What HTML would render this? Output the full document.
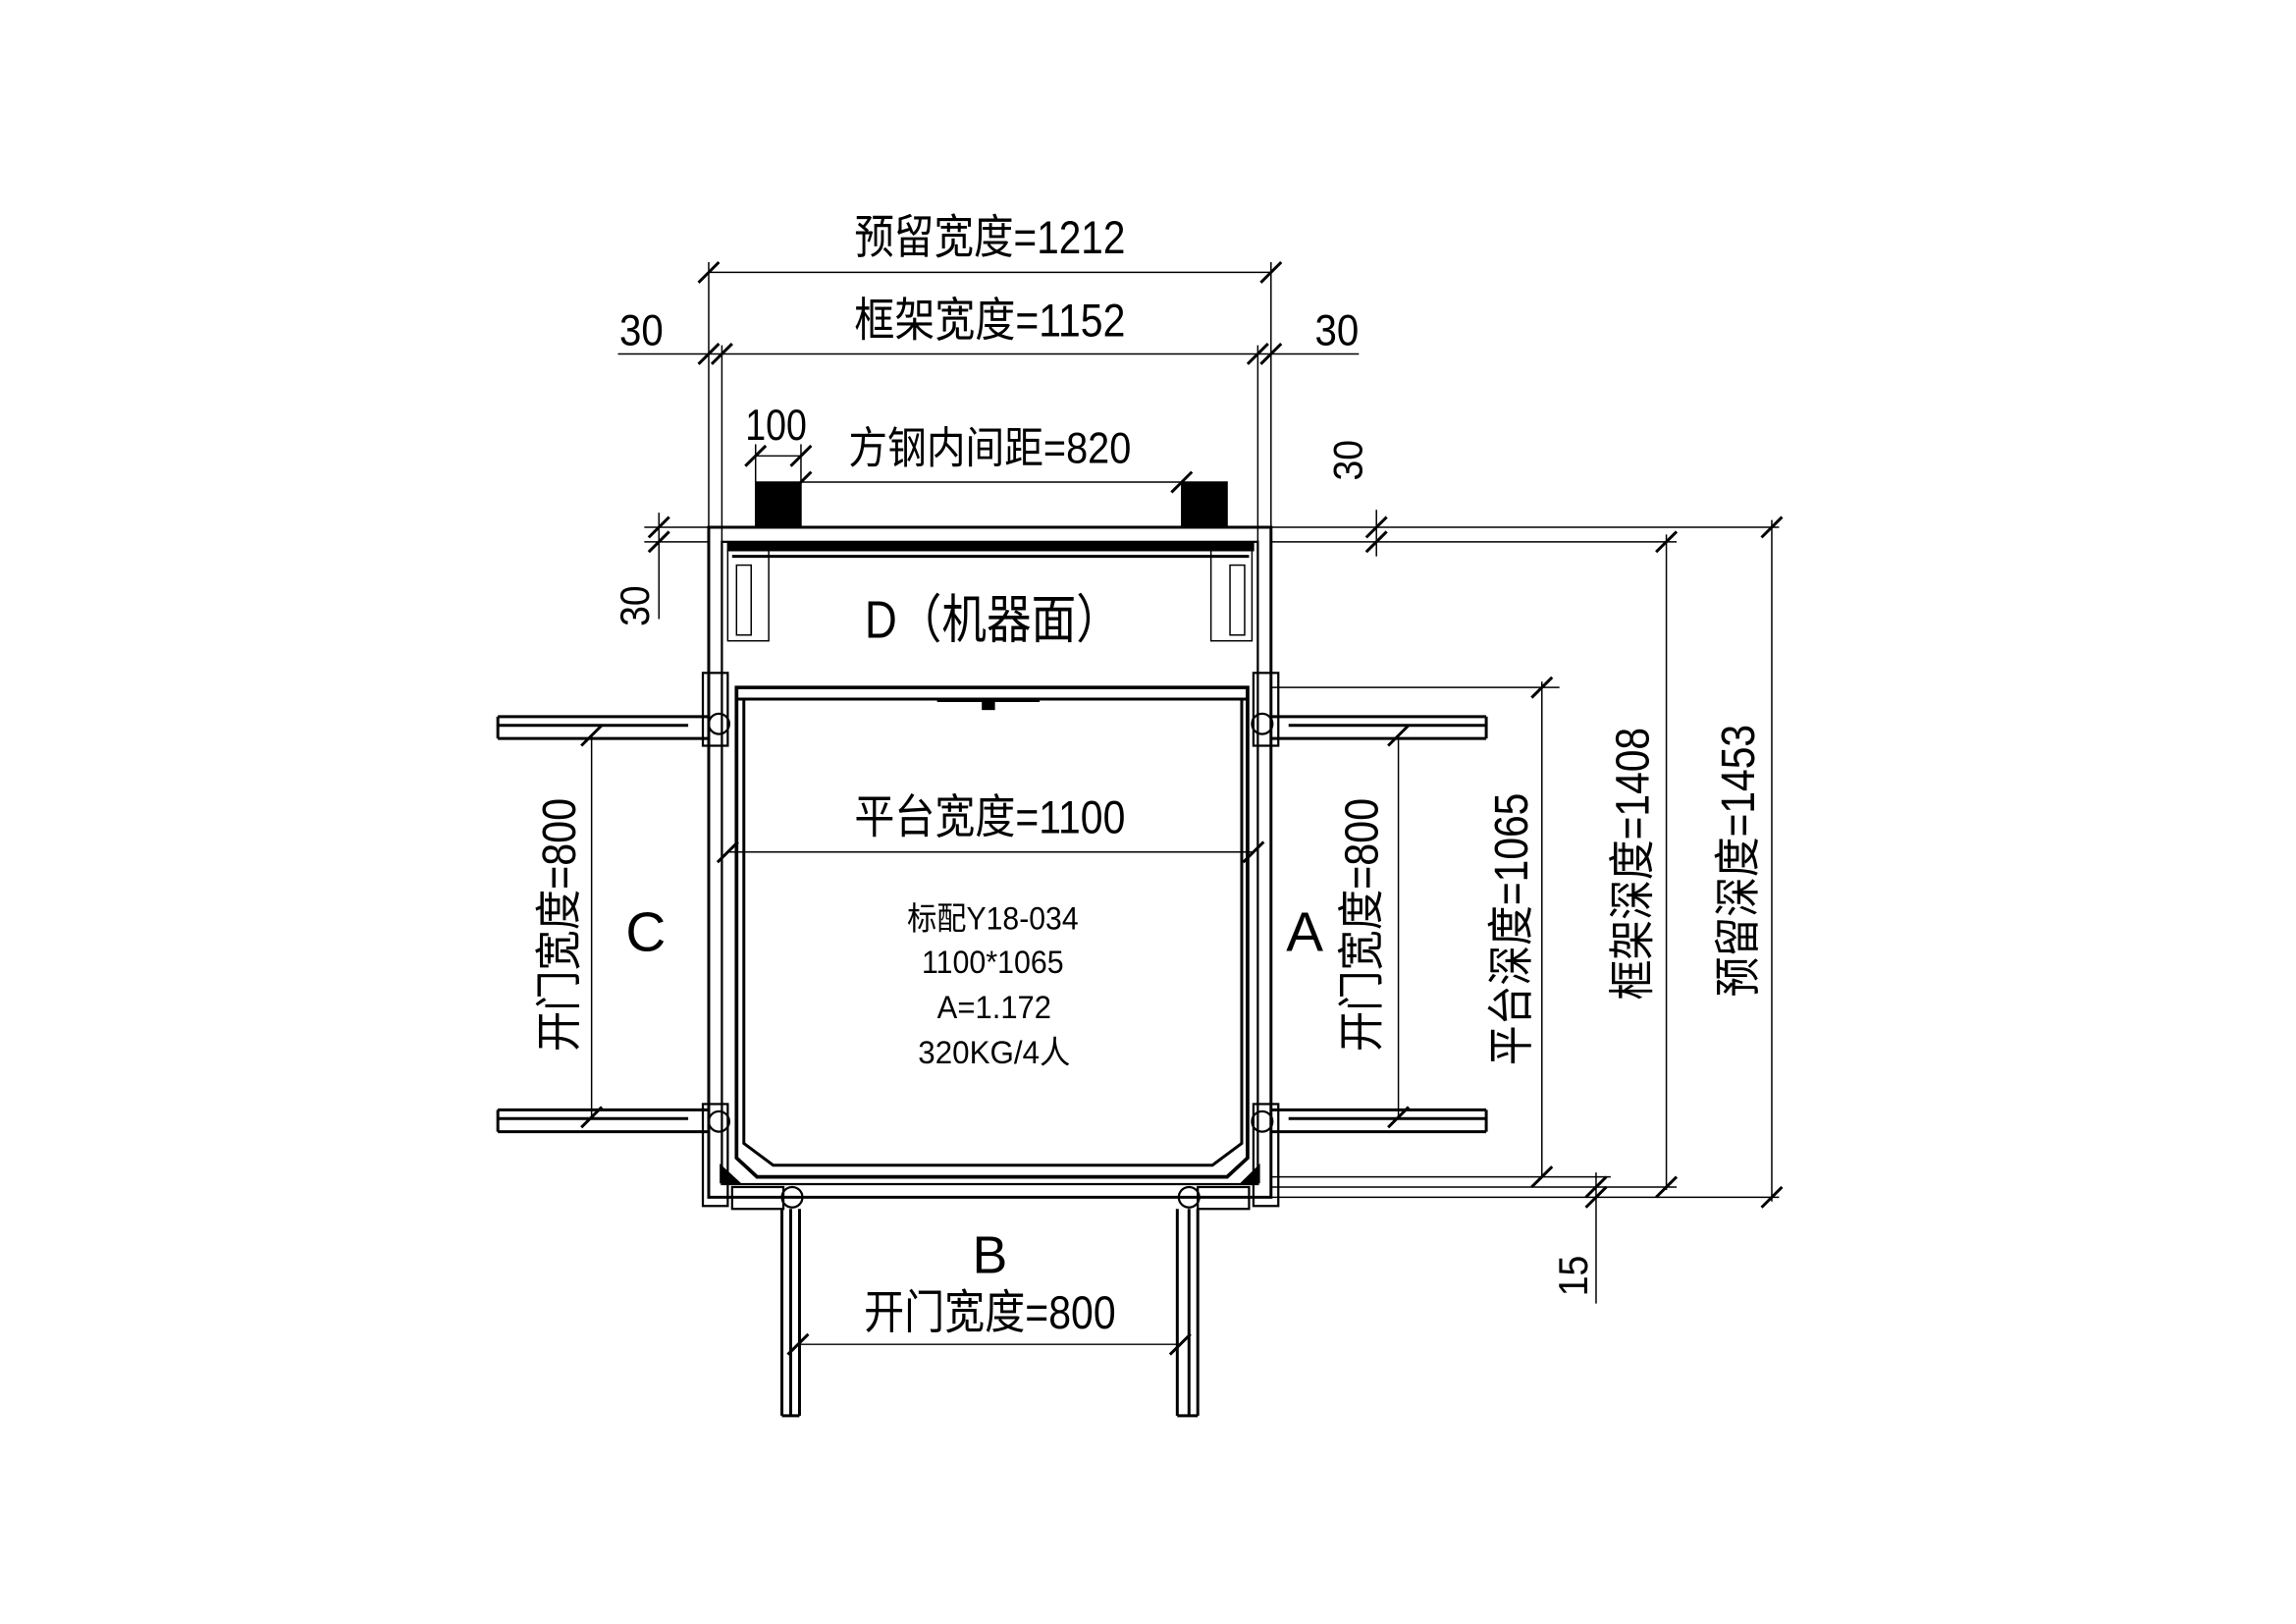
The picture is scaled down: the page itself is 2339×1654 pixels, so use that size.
<!DOCTYPE html>
<html><head><meta charset="utf-8"><style>
html,body{margin:0;padding:0;background:#fff}
svg{display:block}
text{font-family:"Liberation Sans","Noto Sans CJK SC",sans-serif;fill:#000}
.s{font-family:"Liberation Serif","Noto Sans CJK SC",serif}
</style></head><body>
<svg width="2339" height="1654" viewBox="0 0 1568 1115" preserveAspectRatio="none" xmlns="http://www.w3.org/2000/svg">
<g stroke="#000" stroke-width="1" fill="none">
<line x1="484" y1="187" x2="868" y2="187"/>
<line x1="484" y1="180" x2="484" y2="362"/>
<line x1="868" y1="180" x2="868" y2="362"/>
<line x1="422" y1="243" x2="928" y2="243"/>
<line x1="493" y1="237" x2="493" y2="372"/>
<line x1="859" y1="237" x2="859" y2="372"/>
<line x1="516" y1="313" x2="547" y2="313"/>
<line x1="516" y1="305" x2="516" y2="331"/>
<line x1="547" y1="305" x2="547" y2="331"/>
<line x1="547" y1="331" x2="807" y2="331"/>
<g stroke-width="2">
<path d="M477 194 L491 180 M861 194 L875 180 M477 250 L491 236 M486 250 L500 236 M852 250 L866 236 M861 250 L875 236 M509 320 L523 306 M540 320 L554 306 M540 338 L554 324 M800 338 L814 324"/>
</g>
<rect x="484" y="362" width="384" height="460" stroke-width="2"/>
<rect x="493" y="372" width="366" height="441" stroke-width="1.5"/>
<rect x="497" y="372" width="359" height="6" fill="#000"/>
<line x1="500" y1="382" x2="853" y2="382" stroke-width="2"/>
<rect x="497" y="378" width="28" height="62"/>
<rect x="827" y="378" width="28" height="62"/>
<rect x="503" y="388" width="10" height="48"/>
<rect x="840" y="388" width="10" height="48"/>
<rect x="516" y="331" width="31" height="31" fill="#000"/>
<rect x="807" y="331" width="31" height="31" fill="#000"/>
<path d="M503 472 H852 V795 L838 808 H517 L503 795 Z" stroke-width="2.5"/>
<path d="M508 480 H848 V785 L828 800 H528 L508 785 Z" stroke-width="2"/>
<line x1="503" y1="480" x2="852" y2="480" stroke-width="2"/>
<rect x="671" y="481" width="8" height="6" fill="#000"/>
<line x1="640" y1="481" x2="710" y2="481" stroke-width="2"/>
<g stroke-width="1.5">
<rect x="480" y="462" width="17" height="50"/><rect x="856" y="462" width="17" height="50"/>
<rect x="480" y="758" width="17" height="70"/><rect x="856" y="758" width="17" height="70"/>
<circle cx="491" cy="497" r="7"/><circle cx="862" cy="497" r="7"/>
<circle cx="491" cy="770" r="7"/><circle cx="862" cy="770" r="7"/>
<circle cx="541" cy="822" r="7"/><circle cx="812" cy="822" r="7"/>
<rect x="500" y="815" width="35" height="15"/><rect x="818" y="815" width="35" height="15"/>
</g>
<path d="M492 800 L505 812 L492 812Z M860 800 L848 812 L860 812Z" fill="#000"/>
<g stroke-width="2">
<path d="M340 492 H484 M340 507 H484 M340 498 H470 M340 762 H484 M340 777 H484 M340 768 H470"/>
<path d="M868 492 H1015 M868 507 H1015 M880 498 H1015 M868 762 H1015 M868 777 H1015 M880 768 H1015"/>
<path d="M340 492 V507 M340 762 V777 M1015 492 V507 M1015 762 V777"/>
<path d="M534 830 V972 M546 830 V972 M540 830 V972 M534 972 H546 M804 830 V972 M818 830 V972 M812 830 V972 M804 972 H818"/>
</g>
<line x1="497" y1="585" x2="856" y2="585"/>
<path d="M490 592 L504 578 M849 592 L863 578" stroke-width="2"/>
<line x1="404" y1="505" x2="404" y2="767"/>
<line x1="955" y1="505" x2="955" y2="767"/>
<path d="M397 512 L411 498 M397 774 L411 760 M948 512 L962 498 M948 774 L962 760" stroke-width="2"/>
<line x1="545" y1="923" x2="806" y2="923"/>
<path d="M538 930 L552 916 M799 930 L813 916" stroke-width="2"/>
<path d="M868 362 H1215 M868 372 H1145 M868 472 H1065 M868 808 H1100 M868 815 H1145 M868 822 H1215 M930 362 H950"/>
<line x1="1053" y1="468" x2="1053" y2="808"/>
<line x1="1138" y1="367" x2="1138" y2="817"/>
<line x1="1210" y1="357" x2="1210" y2="825"/>
<line x1="940" y1="350" x2="940" y2="382"/>
<line x1="1090" y1="805" x2="1090" y2="895"/>
<path d="M1046 479 L1060 465 M1046 815 L1060 801 M1131 379 L1145 365 M1131 822 L1145 808 M1203 369 L1217 355 M1203 829 L1217 815 M933 369 L947 355 M933 379 L947 365 M1083 822 L1097 808 M1083 829 L1097 815" stroke-width="2"/>
<path d="M440 362 H484 M440 372 H484"/>
<line x1="450" y1="352" x2="450" y2="425"/>
<path d="M443 369 L457 355 M443 379 L457 365" stroke-width="2"/>
</g>
<g class="s">
<text x="676" y="174" font-size="32" text-anchor="middle" textLength="185" lengthAdjust="spacingAndGlyphs">预留宽度=1212</text>
<text x="676" y="231" font-size="32" text-anchor="middle" textLength="185" lengthAdjust="spacingAndGlyphs">框架宽度=1152</text>
<text x="438" y="237" font-size="30" text-anchor="middle" textLength="30" lengthAdjust="spacingAndGlyphs">30</text>
<text x="913" y="237" font-size="30" text-anchor="middle" textLength="30" lengthAdjust="spacingAndGlyphs">30</text>
<text x="530" y="302" font-size="30" text-anchor="middle" textLength="42" lengthAdjust="spacingAndGlyphs">100</text>
<text x="676" y="572" font-size="32" text-anchor="middle" textLength="185" lengthAdjust="spacingAndGlyphs">平台宽度=1100</text>
<text x="676" y="912" font-size="32" text-anchor="middle" textLength="172" lengthAdjust="spacingAndGlyphs">开门宽度=800</text>
<text transform="translate(393,635) rotate(-90)" font-size="32" text-anchor="middle" textLength="174" lengthAdjust="spacingAndGlyphs">开门宽度=800</text>
<text transform="translate(941,635) rotate(-90)" font-size="32" text-anchor="middle" textLength="174" lengthAdjust="spacingAndGlyphs">开门宽度=800</text>
<text transform="translate(1043,638) rotate(-90)" font-size="32" text-anchor="middle" textLength="187" lengthAdjust="spacingAndGlyphs">平台深度=1065</text>
<text transform="translate(1126,593) rotate(-90)" font-size="32" text-anchor="middle" textLength="187" lengthAdjust="spacingAndGlyphs">框架深度=1408</text>
<text transform="translate(1198,591) rotate(-90)" font-size="32" text-anchor="middle" textLength="187" lengthAdjust="spacingAndGlyphs">预留深度=1453</text>
<text transform="translate(930,316) rotate(-90)" font-size="28" text-anchor="middle" textLength="28" lengthAdjust="spacingAndGlyphs">30</text>
<text transform="translate(443,416) rotate(-90)" font-size="28" text-anchor="middle" textLength="28" lengthAdjust="spacingAndGlyphs">30</text>
<text transform="translate(1084,876) rotate(-90)" font-size="28" text-anchor="middle" textLength="28" lengthAdjust="spacingAndGlyphs">15</text>
</g>
<text x="676" y="318" font-size="30" text-anchor="middle" textLength="193" lengthAdjust="spacingAndGlyphs">方钢内间距=820</text>
<text x="678" y="438" font-size="36" text-anchor="middle" textLength="175" lengthAdjust="spacingAndGlyphs">D（机器面）</text>
<text x="441" y="653" font-size="38" text-anchor="middle">C</text>
<text x="891" y="653" font-size="38" text-anchor="middle">A</text>
<text x="676" y="874" font-size="36" text-anchor="middle">B</text>
<text x="678" y="638" font-size="22" text-anchor="middle" textLength="117" lengthAdjust="spacingAndGlyphs">标配Y18-034</text>
<text x="678" y="668" font-size="22" text-anchor="middle" textLength="97" lengthAdjust="spacingAndGlyphs">1100*1065</text>
<text x="679" y="699" font-size="22" text-anchor="middle" textLength="78" lengthAdjust="spacingAndGlyphs">A=1.172</text>
<text x="679" y="730" font-size="22" text-anchor="middle" textLength="104" lengthAdjust="spacingAndGlyphs">320KG/4人</text>
</svg>
</body></html>
